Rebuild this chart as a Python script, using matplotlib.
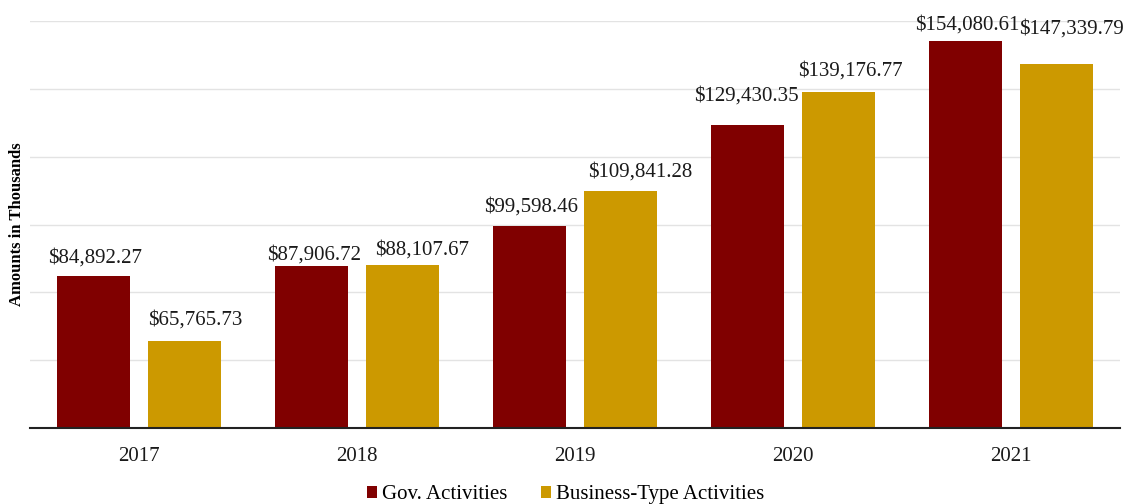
import matplotlib.pyplot as plt
import numpy as np

# Data
years = ['2017', '2018', '2019', '2020', '2021']
gov = [84892.27, 87906.72, 99598.46, 129430.35, 154080.61]
business = [65765.73, 88107.67, 109841.28, 139176.77, 147339.79]

# label nudges (pixels) to mimic the original label placement
gov_nudge = [(2, 13), (2.5, 6), (2, 14), (-1.5, 24), (1.5, 12)]
bus_nudge = [(11, 16), (19.5, 10), (20, 15), (12, 16), (14.5, 30)]

plt.rcParams['font.family'] = ['Liberation Serif', 'DejaVu Serif']

fig = plt.figure(figsize=(11.28, 5.04), dpi=100)
ax = fig.add_axes([0.0266, 0.1508, 0.9663, 0.8075])

x = np.arange(len(years))
w = 0.335
off = 0.209
b1 = ax.bar(x - off, gov, width=w, color='#800000', label='Gov. Activities', zorder=2)
b2 = ax.bar(x + off, business, width=w, color='#cc9900', label='Business-Type Activities', zorder=2)

for bars, vals, nudges in ((b1, gov, gov_nudge), (b2, business, bus_nudge)):
    for rect, v, (dx, dy) in zip(bars, vals, nudges):
        ax.annotate(f'${v:,.2f}', xy=(rect.get_x() + rect.get_width() / 2, v),
                    xytext=(dx * 0.72, dy * 0.72), textcoords='offset points',
                    ha='center', va='baseline', fontsize=15, color='#1a1a1a')

ax.set_xlim(-0.5, len(years) - 0.5)
ax.set_ylim(40000, 160000)
ax.set_yticks(np.arange(40000, 160001, 20000))
ax.set_yticklabels([])
ax.tick_params(axis='y', length=0)
ax.tick_params(axis='x', length=0, labelsize=15, pad=14, labelcolor='#1a1a1a')
ax.set_xticks(x)
ax.set_xticklabels(years)
ax.grid(axis='y', color='#e3e3e3', linewidth=1, zorder=0)
for s in ['top', 'right', 'left']:
    ax.spines[s].set_visible(False)
ax.spines['bottom'].set_color('#222222')
ax.spines['bottom'].set_linewidth(1.5)
ax.spines['bottom'].set_zorder(3)

ax.set_ylabel('Amounts in Thousands', fontsize=12, fontweight='bold')
ax.yaxis.set_label_coords(-0.0046, 0.5)

fig.legend(handles=[b1, b2], loc='center', bbox_to_anchor=(0.5013, 0.0179), ncol=2,
           frameon=False, fontsize=15, handlelength=0.48, handleheight=0.48,
           handletextpad=0.25, columnspacing=1.6, borderpad=0)

plt.savefig('out.png', dpi=100)
